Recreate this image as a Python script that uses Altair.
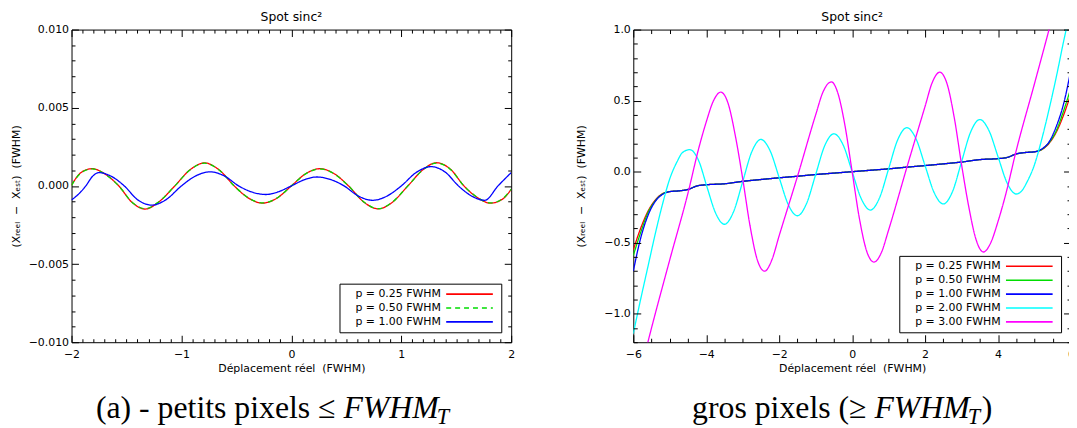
import altair as alt
import pandas as pd

# ---------------- Left panel: petits pixels ----------------
L_SERIES = ["p = 0.25 FWHM", "p = 0.50 FWHM", "p = 1.00 FWHM"]
L_COLORS = ["#ff0000", "#00dd00", "#0000ff"]
L_DASHES = [[1, 0], [5, 4], [1, 0]]

L_X_025 = [-2.0, -1.93, -1.87, -1.81, -1.70, -1.57, -1.45, -1.33, -1.21, -1.06, -0.92, -0.79,
           -0.66, -0.52, -0.39, -0.26, -0.13, 0.0, 0.13, 0.26, 0.39, 0.52, 0.66, 0.79, 0.92,
           1.06, 1.20, 1.32, 1.45, 1.57, 1.70, 1.81, 1.92, 2.0]
L_Y_025 = [0.00005, 0.00075, 0.00102, 0.00110, 0.00078, 0.0, -0.00105, -0.00148, -0.00105, 0.0,
           0.00104, 0.00147, 0.00104, 0.0, -0.00078, -0.00110, -0.00078, 0.0, 0.00078, 0.00110,
           0.00078, 0.0, -0.00104, -0.00147, -0.00104, 0.0, 0.00105, 0.00148, 0.00105, 0.0,
           -0.00078, -0.00110, -0.00085, -0.00022]
L_X_050 = L_X_025
L_Y_050 = [0.00003, 0.00073, 0.00100, 0.00109, 0.00077, 0.0, -0.00104, -0.00146, -0.00104, 0.0,
           0.00103, 0.00146, 0.00103, 0.0, -0.00077, -0.00109, -0.00077, 0.0, 0.00077, 0.00109,
           0.00077, 0.0, -0.00103, -0.00146, -0.00103, 0.0, 0.00104, 0.00146, 0.00104, 0.0,
           -0.00077, -0.00109, -0.00083, -0.00020]
L_X_100 = [-2.0, -1.94, -1.87, -1.81, -1.75, -1.64, -1.52, -1.40, -1.27, -1.14, -1.0, -0.87,
           -0.74, -0.61, -0.48, -0.36, -0.23, -0.12, 0.0, 0.12, 0.23, 0.36, 0.48, 0.61, 0.74,
           0.87, 1.0, 1.14, 1.27, 1.40, 1.52, 1.64, 1.76, 1.88, 2.0]
L_Y_100 = [-0.00090, -0.00055, 0.0, 0.00060, 0.00085, 0.00062, 0.0, -0.00088, -0.00123, -0.00088,
           0.0, 0.00064, 0.00090, 0.00064, 0.0, -0.00039, -0.00055, -0.00038, 0.0, 0.00040,
           0.00057, 0.00040, 0.0, -0.00065, -0.00092, -0.00065, 0.0, 0.00088, 0.00123, 0.00088,
           0.0, -0.00065, -0.00092, 0.0, 0.00085]

L_XMAJ = [-2, -1, 0, 1, 2]
L_YMAJ = [-0.010, -0.005, 0.0, 0.005, 0.010]

# ---------------- Right panel: gros pixels ----------------
R_SERIES = ["p = 0.25 FWHM", "p = 0.50 FWHM", "p = 1.00 FWHM", "p = 2.00 FWHM", "p = 3.00 FWHM"]
R_COLORS = ["#ff0000", "#00dd00", "#0000ff", "#00ffff", "#ff00ff"]

R_X_STEP = [-6.0, -5.8, -5.6, -5.4, -5.2, -5.0, -4.75, -4.5, -4.25, -4.0, -3.5, -3.0, -2.5, -2.0,
            -1.5, -1.0, -0.5, 0.0, 0.5, 1.0, 1.5, 2.0, 2.5, 3.0, 3.5, 4.0, 4.25, 4.5, 4.75, 5.0,
            5.2, 5.4, 5.6, 5.8, 6.0]
R_Y_025 = [-0.55, -0.40, -0.28, -0.20, -0.155, -0.14, -0.135, -0.125, -0.10, -0.092, -0.085,
           -0.068, -0.055, -0.043, -0.032, -0.020, -0.010, 0.0, 0.010, 0.020, 0.032, 0.043, 0.055,
           0.068, 0.085, 0.092, 0.10, 0.125, 0.135, 0.14, 0.155, 0.20, 0.28, 0.40, 0.55]
R_Y_050 = [-0.59, -0.43, -0.29, -0.205, -0.157, -0.14, -0.135, -0.125, -0.10, -0.092, -0.085,
           -0.068, -0.055, -0.043, -0.032, -0.020, -0.010, 0.0, 0.010, 0.020, 0.032, 0.043, 0.055,
           0.068, 0.085, 0.092, 0.10, 0.125, 0.135, 0.14, 0.157, 0.205, 0.29, 0.43, 0.59]
R_Y_100 = [-0.70, -0.47, -0.31, -0.21, -0.16, -0.14, -0.135, -0.125, -0.10, -0.092, -0.085,
           -0.068, -0.055, -0.043, -0.032, -0.020, -0.010, 0.0, 0.010, 0.020, 0.032, 0.043, 0.055,
           0.068, 0.085, 0.092, 0.10, 0.125, 0.135, 0.14, 0.16, 0.21, 0.32, 0.48, 0.72]
R_X_200 = [-6.0, -5.8, -5.6, -5.4, -5.2, -5.0, -4.8, -4.65, -4.45, -4.21, -3.98, -3.74, -3.5,
           -3.25, -3.0, -2.75, -2.5, -2.25, -2.0, -1.75, -1.5, -1.25, -1.0, -0.75, -0.5, -0.25,
           0.0, 0.25, 0.5, 0.75, 1.0, 1.25, 1.5, 1.75, 2.0, 2.25, 2.5, 2.75, 3.0, 3.25, 3.5,
           3.75, 4.0, 4.25, 4.5, 4.65, 4.8, 5.0, 5.2, 5.4, 5.6, 5.8, 6.0]
R_Y_200 = [-1.14, -0.90, -0.67, -0.44, -0.23, -0.05, 0.07, 0.135, 0.155, 0.079, -0.107, -0.293,
           -0.37, -0.281, -0.07, 0.141, 0.227, 0.148, -0.042, -0.232, -0.31, -0.224, -0.02, 0.184,
           0.267, 0.19, 0.0, -0.19, -0.27, -0.185, 0.02, 0.225, 0.31, 0.232, 0.042, -0.148,
           -0.227, -0.141, 0.07, 0.28, 0.367, 0.29, 0.105, -0.08, -0.157, -0.135, -0.07, 0.05,
           0.23, 0.44, 0.67, 0.92, 1.15]
R_X_300 = [-6.0, -5.6, -5.0, -4.5, -4.2, -4.0, -3.8, -3.6, -3.4, -3.2, -3.0, -2.8, -2.6, -2.4,
           -2.2, -2.0, -1.5, -1.0, -0.8, -0.57, -0.4, -0.2, 0.0, 0.2, 0.4, 0.6, 0.8, 1.0, 1.5,
           2.0, 2.2, 2.4, 2.6, 2.8, 3.0, 3.2, 3.4, 3.6, 3.8, 4.0, 4.2, 4.5, 5.0, 5.6, 6.0]
R_Y_300 = [-1.62, -1.20, -0.62, -0.15, 0.17, 0.35, 0.50, 0.56, 0.48, 0.25, -0.05, -0.38, -0.62,
           -0.70, -0.62, -0.45, -0.034, 0.40, 0.56, 0.632, 0.56, 0.33, 0.0, -0.33, -0.56, -0.636,
           -0.57, -0.41, 0.03, 0.46, 0.63, 0.70, 0.62, 0.38, 0.05, -0.25, -0.48, -0.565, -0.50,
           -0.35, -0.17, 0.15, 0.62, 1.20, 1.62]

R_XMAJ = [-6, -4, -2, 0, 2, 4, 6]
R_YMAJ = [-1.0, -0.5, 0.0, 0.5, 1.0]

TITLE = "Spot sinc\u00b2"
XTITLE = "D\u00e9placement r\u00e9el \u00a0(FWHM)"
YTITLE = "(X\u1d63\u2091\u2091\u2097 \u00a0\u2212\u00a0 X\u2091\u209b\u209c) \u00a0(FWHM)"
CAP_L = ["(a) - petits pixels \u2264", "FWHM", "T", ""]
CAP_R = ["gros pixels (\u2265", "FWHM", "T", ")"]

H = 315
FONT = "DejaVu Sans"
TICK_COLOR = "#000000"
TICK_W = 1
# legend line symbol drawn to the right of its label (unit path scaled by sqrt(size)/2)
LEGEND_SYMBOL = "M48.5,0L72,0"


def long_df(series, xs, ys):
    rows = []
    for s, xv, yv in zip(series, xs, ys):
        for i, (a, b) in enumerate(zip(xv, yv)):
            rows.append({"s": s, "x": a, "y": b, "i": i})
    return pd.DataFrame(rows)


def tick_axis(orient, values, size):
    # inward-pointing ticks: axis pulled inside the frame by its own tick length
    return alt.Axis(orient=orient, values=values, ticks=True, tickSize=size, offset=-size,
                    labels=False, title=None, domain=False, grid=False,
                    tickColor=TICK_COLOR, tickWidth=TICK_W, tickOpacity=1, zindex=2,
                    minExtent=0, maxExtent=size)


def caption_layers(parts, x0, base_y, size=32, gap=8):
    one = alt.Data(values=[{"k": 0}])
    xf = x0 + gap
    layers = [
        alt.Chart(one).mark_text(text=parts[0], align="right", baseline="alphabetic",
                                 font="Liberation Serif", fontSize=size, color="black")
        .encode(x=alt.value(x0), y=alt.value(base_y)),
        alt.Chart(one).mark_text(text=parts[1], align="left", baseline="alphabetic",
                                 font="Liberation Serif", fontStyle="italic", fontSize=size,
                                 color="black")
        .encode(x=alt.value(xf), y=alt.value(base_y)),
        alt.Chart(one).mark_text(text=parts[2], align="left", baseline="alphabetic",
                                 font="Liberation Serif", fontStyle="italic",
                                 fontSize=size * 0.7, color="black")
        .encode(x=alt.value(xf + 3.0 * size - 2), y=alt.value(base_y + 6)),
    ]
    if parts[3]:
        layers.append(
            alt.Chart(one).mark_text(text=parts[3], align="left", baseline="alphabetic",
                                     font="Liberation Serif", fontSize=size, color="black")
            .encode(x=alt.value(xf + 3.0 * size + 12), y=alt.value(base_y)))
    return layers


def panel(W, df, series, colors, dashes, xdom, ydom, xmaj, xmin, ymaj, ymin, yfmt, yext, ytp,
          lmaj, lmin, cap, capx):
    xs = alt.Scale(domain=xdom, nice=False, zero=False)
    ys = alt.Scale(domain=ydom, nice=False, zero=False)
    xaxis = alt.Axis(orient="bottom", values=xmaj, format="d", title=XTITLE, ticks=True,
                     tickSize=lmaj, offset=-lmaj, tickColor=TICK_COLOR, tickWidth=TICK_W,
                     tickOpacity=1, zindex=2, domain=False, grid=False,
                     labelPadding=6, titlePadding=3, labelFlush=False, labelOverlap=False)
    yaxis = alt.Axis(orient="left", values=ymaj, format=yfmt, title=YTITLE, ticks=True,
                     tickSize=lmaj, offset=-lmaj, tickColor=TICK_COLOR, tickWidth=TICK_W,
                     tickOpacity=1, zindex=2, domain=False, grid=False,
                     labelPadding=3, titlePadding=ytp, minExtent=yext + lmaj,
                     maxExtent=yext + lmaj, labelFlush=False, labelOverlap=False)
    leg = alt.Legend(title=None, orient="bottom-right", offset=10, direction="vertical",
                     strokeColor="black", fillColor="white", padding=5,
                     labelFont=FONT, labelFontSize=11, labelColor="black", labelOffset=0,
                     symbolType=LEGEND_SYMBOL, symbolSize=16, symbolStrokeWidth=1.6,
                     rowPadding=2)
    lines = alt.Chart(df).mark_line(clip=True, strokeWidth=1.3, interpolate="monotone").encode(
        x=alt.X("x:Q", scale=xs, axis=xaxis),
        y=alt.Y("y:Q", scale=ys, axis=yaxis),
        color=alt.Color("s:N", scale=alt.Scale(domain=series, range=colors), legend=leg),
        strokeDash=alt.StrokeDash("s:N", scale=alt.Scale(domain=series, range=dashes),
                                  legend=leg),
        order=alt.Order("i:Q"),
    )
    carriers = []
    for xa, ya in ((tick_axis("bottom", xmin, lmin), tick_axis("left", ymin, lmin)),
                   (tick_axis("top", xmaj, lmaj), tick_axis("right", ymaj, lmaj)),
                   (tick_axis("top", xmin, lmin), tick_axis("right", ymin, lmin))):
        carriers.append(
            alt.Chart(df).mark_line(opacity=0, clip=True).encode(
                x=alt.X("x:Q", scale=xs, axis=xa),
                y=alt.Y("y:Q", scale=ys, axis=ya),
                detail="s:N",
                order=alt.Order("i:Q"),
            ))
    layers = [lines] + carriers + caption_layers(cap, capx, 391)
    return alt.layer(*layers).resolve_axis(x="independent", y="independent").properties(
        width=W, height=H,
        title=alt.TitleParams(TITLE, font=FONT, fontSize=12.5, fontWeight="normal",
                              color="black", offset=0, anchor="middle", frame="group"))


left_df = long_df(L_SERIES, [L_X_025, L_X_050, L_X_100], [L_Y_025, L_Y_050, L_Y_100])
right_df = long_df(R_SERIES, [R_X_STEP, R_X_STEP, R_X_STEP, R_X_200, R_X_300],
                   [R_Y_025, R_Y_050, R_Y_100, R_Y_200, R_Y_300])

L_XMIN = [round(-2 + 0.1 * k, 2) for k in range(41) if k % 10 != 0]
L_YMIN = [round(-0.010 + 0.001 * k, 4) for k in range(21) if k % 5 != 0]
R_XMIN = [-6 + 0.5 * k for k in range(25) if k % 4 != 0]
R_YMIN = [round(-1.2 + 0.1 * k, 2) for k in range(23) if (k - 2) % 5 != 0]

left = panel(443, left_df, L_SERIES, L_COLORS, L_DASHES, [-2, 2], [-0.010, 0.010],
             L_XMAJ, L_XMIN, L_YMAJ, L_YMIN, ".3f", 44, 6.5, 7, 3.5, CAP_L, 266)
right = panel(441, right_df, R_SERIES, R_COLORS, [[1, 0]] * 5, [-6, 6], [-1.2, 1.0],
              R_XMAJ, R_XMIN, R_YMAJ, R_YMIN, ".1f", 41, 6, 7.5, 4, CAP_R, 235)

chart = (
    alt.hconcat(left, right, spacing=60)
    .resolve_scale(color="independent", strokeDash="independent")
    .resolve_legend(color="independent", strokeDash="independent")
    .properties(autosize=alt.AutoSizeParams(type="none"),
                padding={"left": 64, "top": 19, "right": 1005, "bottom": 393},
                background="white")
    .configure_view(stroke="black", strokeWidth=1)
    .configure_axis(labelFont=FONT, labelFontSize=11, titleFont=FONT, titleFontSize=11,
                    titleFontWeight="normal", labelColor="black", titleColor="black")
)

chart.save("out.html", embed_options={"renderer": "svg", "actions": False})
